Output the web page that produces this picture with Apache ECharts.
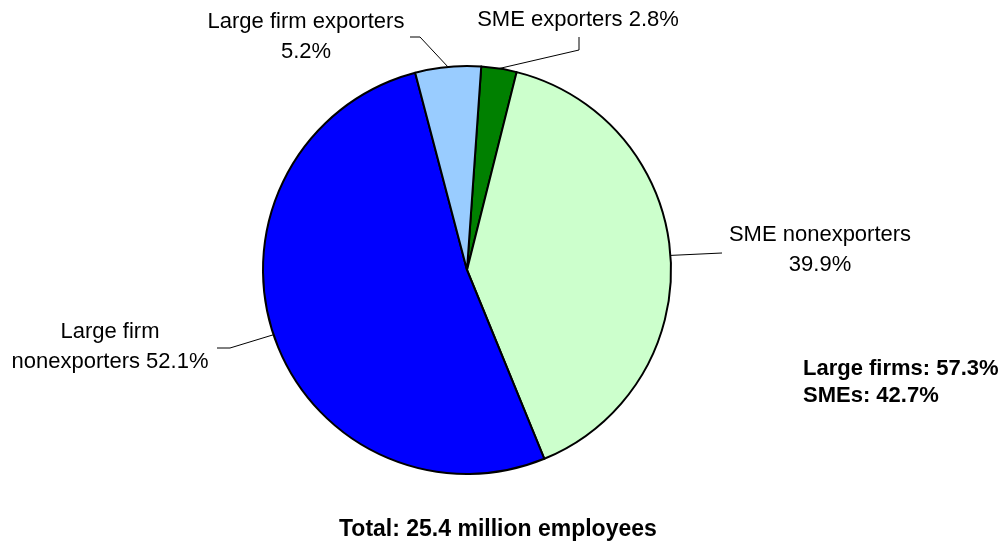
<!DOCTYPE html>
<html>
<head>
<meta charset="utf-8">
<script src="https://cdn.jsdelivr.net/npm/echarts@6/dist/echarts.min.js"></script>
<style>
  html, body { margin: 0; padding: 0; background: #fff; }
  #chart { width: 1004px; height: 550px; }
</style>
</head>
<body>
<div id="chart"></div>
<script>
// employment shares (%), clockwise from the top
const names = ['SME exporters', 'SME nonexporters', 'Large firm\nnonexporters', 'Large firm exporters']
const shares = [2.8, 39.9, 52.1, 5.2]
const colors = ['#008000', '#CCFFCC', '#0000FF', '#99CCFF']
// separator between name and percent in each label
const seps = [' ', '\n', ' ', '\n']
const totalEmployees = 25.4 // million

const largeShare = shares[2] + shares[3]
const smeShare = shares[0] + shares[1]

// where each label sits (block centre) and how its leader line bends
const labelSpots = [
  { x: 578, y: 20, bend: [579, 50], end: [579, 37] },
  { x: 820, y: 250, bend: [722, 253], end: [722, 253] },
  { x: 110, y: 347, bend: [230, 348], end: [217, 348] },
  { x: 306, y: 37, bend: [420, 37], end: [410, 37] }
]

const font = '"Liberation Sans", Arial, sans-serif'
const chart = echarts.init(document.getElementById('chart'))

chart.setOption({
  animation: false,
  title: {
    text: 'Total: ' + totalEmployees + ' million employees',
    left: 334,
    top: 513,
    textStyle: { fontFamily: font, fontSize: 23, fontWeight: 'bold', color: '#000' }
  },
  graphic: [{
    type: 'text',
    left: 803,
    top: 355,
    style: {
      text: 'Large firms: ' + largeShare.toFixed(1) + '%\nSMEs: ' + smeShare.toFixed(1) + '%',
      font: 'bold 22px ' + font,
      lineHeight: 27,
      fill: '#000'
    }
  }],
  series: [{
    type: 'pie',
    center: [467, 270],
    radius: 204,
    startAngle: 86,
    clockwise: true,
    avoidLabelOverlap: false,
    emphasis: { disabled: true },
    itemStyle: { borderColor: '#000', borderWidth: 2 },
    label: {
      show: true,
      position: 'outside',
      fontFamily: font,
      fontSize: 22,
      lineHeight: 30,
      color: '#000',
      align: 'center',
      formatter: function (p) {
        return p.name + seps[p.dataIndex] + p.value.toFixed(1) + '%'
      }
    },
    labelLine: {
      show: true,
      length: 20,
      length2: 10,
      lineStyle: { color: '#000', width: 1 }
    },
    labelLayout: function (params) {
      const s = labelSpots[params.dataIndex]
      const edge = params.labelLinePoints ? params.labelLinePoints[0] : s.bend
      return {
        x: s.x,
        y: s.y,
        align: 'center',
        verticalAlign: 'middle',
        labelLinePoints: [edge, s.bend, s.end]
      }
    },
    data: names.map(function (n, i) {
      return { name: n, value: shares[i], itemStyle: { color: colors[i] } }
    })
  }]
})
</script>
</body>
</html>
